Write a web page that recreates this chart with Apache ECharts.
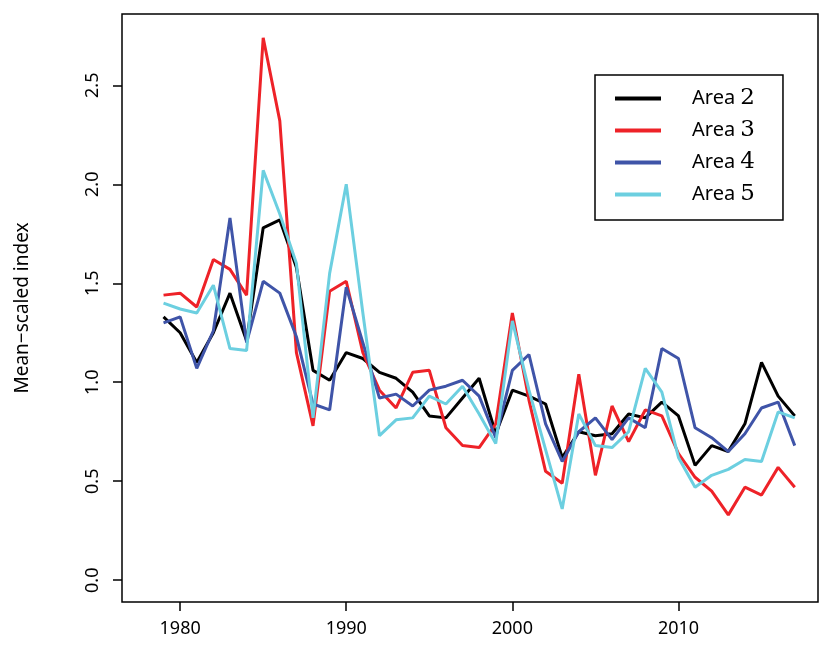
<!DOCTYPE html>
<html><head><meta charset="utf-8">
<script src="https://cdn.jsdelivr.net/npm/echarts@6/dist/echarts.min.js"></script>
<style>html,body{margin:0;background:#fff}#main{width:833px;height:670px}</style>
</head><body><div id="main"></div>
<script>
const years = [];
for (let y = 1979; y <= 2017; y++) years.push(y);
const area2 = [1.33,1.25,1.10,1.25,1.45,1.21,1.78,1.82,1.58,1.06,1.01,1.15,1.12,1.05,1.02,0.95,0.83,0.82,0.92,1.02,0.74,0.96,0.93,0.89,0.62,0.75,0.73,0.74,0.84,0.82,0.90,0.83,0.58,0.68,0.65,0.79,1.10,0.93,0.83];
const area3 = [1.44,1.45,1.38,1.62,1.57,1.44,2.74,2.32,1.15,0.78,1.46,1.51,1.15,0.96,0.87,1.05,1.06,0.77,0.68,0.67,0.79,1.35,0.91,0.55,0.49,1.04,0.53,0.88,0.70,0.86,0.83,0.64,0.52,0.45,0.33,0.47,0.43,0.57,0.47];
const area4 = [1.30,1.33,1.07,1.26,1.83,1.20,1.51,1.45,1.23,0.89,0.86,1.48,1.20,0.92,0.94,0.88,0.96,0.98,1.01,0.93,0.72,1.06,1.14,0.79,0.60,0.75,0.82,0.71,0.82,0.77,1.17,1.12,0.77,0.72,0.65,0.74,0.87,0.90,0.68];
const area5 = [1.40,1.37,1.35,1.49,1.17,1.16,2.07,1.85,1.60,0.82,1.55,2.00,1.35,0.73,0.81,0.82,0.93,0.89,0.98,0.84,0.69,1.31,0.96,0.66,0.36,0.84,0.68,0.67,0.75,1.07,0.95,0.62,0.47,0.53,0.56,0.61,0.60,0.85,0.82];
const xTicks = [1980,1990,2000,2010];
const yTicks = [0,0.5,1,1.5,2,2.5];
const names = ['2','3','4','5'];
const colors = ['#000000','#ee2228','#3f54a8','#6ccfe0'];
const data = [area2, area3, area4, area5];

const chart = echarts.init(document.getElementById('main'));
chart.setOption({
  animation: false,
  grid: {left:122, right:15, top:14, bottom:68, show:true, borderColor:'#000', borderWidth:1.5},
  xAxis: {type:'value', min:1976.5, max:2018.4, splitLine:{show:false},
    axisLine:{show:false, onZero:false},
    axisTick:{show:true, length:9, lineStyle:{color:'#000',width:1.5}, customValues:xTicks},
    axisLabel:{color:'#000', fontFamily:'Noto Sans', fontSize:18, margin:18, customValues:xTicks, formatter:v=>String(v)}},
  yAxis: {type:'value', min:-0.11, max:2.86, splitLine:{show:false},
    name:'Mean\u2212scaled index', nameLocation:'middle', nameGap:90, nameRotate:90,
    nameTextStyle:{color:'#000', fontFamily:'Noto Sans', fontSize:19},
    axisLine:{show:false, onZero:false},
    axisTick:{show:true, length:9, lineStyle:{color:'#000',width:1.5}, customValues:yTicks},
    axisLabel:{color:'#000', fontFamily:'Noto Sans', fontSize:18, rotate:90, margin:20, customValues:yTicks, formatter:v=>v.toFixed(1)}},
  legend: {left:595, top:75, orient:'vertical', itemWidth:46, itemHeight:4, itemGap:9,
    backgroundColor:'#fff', borderColor:'#000', borderWidth:1.5, padding:[12,28,14,20],
    icon:'rect',
    formatter: n => '{a|Area }{b|' + n.split(' ')[1] + '}',
    textStyle:{rich:{a:{fontFamily:'Noto Sans', fontSize:20, color:'#000', padding:[0,0,0,26]}, b:{fontFamily:'DejaVu Serif', fontSize:23, color:'#000'}}},
    data: names.map(n => 'Area ' + n)},
  series: data.map((d, i) => ({
    name:'Area ' + names[i], type:'line', symbol:'none', color:colors[i],
    lineStyle:{width:3, color:colors[i]},
    data: years.map((y, j) => [y, d[j]])
  }))
});
</script></body></html>
